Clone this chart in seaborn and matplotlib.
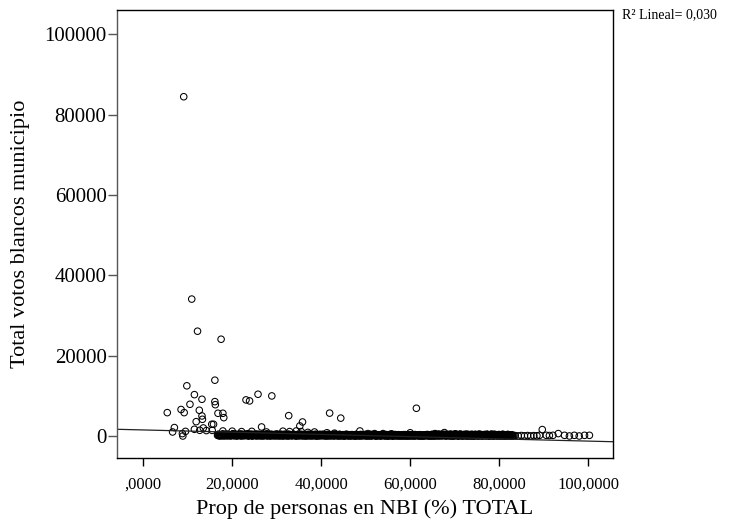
import matplotlib
matplotlib.use("Agg")
import matplotlib.pyplot as plt
import seaborn as sns
import pandas as pd

# ---------------- data ----------------
x_label = "Prop de personas en NBI (%) TOTAL"
y_label = "Total votos blancos municipio"
r2_text = "R\u00b2 Lineal= 0,030"

x_ticks = [0, 20, 40, 60, 80, 100]
x_tick_labels = [",0000", "20,0000", "40,0000", "60,0000", "80,0000", "100,0000"]
y_ticks = [0, 20000, 40000, 60000, 80000, 100000]
y_tick_labels = ["0", "20000", "40000", "60000", "80000", "100000"]

# fitted linear line
fit_intercept = 1508
fit_slope = -27.8

# scattered municipalities (outliers / above the dense band)
out_x = [9.1, 10.9, 12.2, 17.5, 16.1, 9.8, 11.5, 13.2, 10.5, 16.1,
         16.2, 23.1, 23.9, 25.8, 28.9, 5.4, 8.5, 9.2, 12.6, 13.2,
         13.3, 11.9, 16.8, 17.9, 18.1, 15.4, 15.8, 32.7, 35.8, 35.2,
         26.6, 41.9, 44.4, 61.4, 7.0, 6.6, 8.8, 8.9, 9.5, 11.5,
         12.7, 13.5, 14.2, 15.5, 17.9, 20.0, 22.1, 24.4, 27.7, 31.4,
         32.9, 34.4, 35.5, 37.0, 38.5, 41.3, 43.0, 48.7, 50.5, 52.0,
         53.9, 55.8, 60.0, 65.6, 67.7, 70.1]
out_y = [84500, 34100, 26100, 24100, 13900, 12500, 10300, 9150, 7900, 8560,
         7800, 8990, 8740, 10400, 9980, 5820, 6600, 5820, 6410, 4990,
         4160, 3570, 5660, 5660, 4570, 2920, 2920, 5070, 3490, 2500,
         2250, 5700, 4450, 6910, 2100, 1000, 600, 0, 1150, 1670,
         1420, 2000, 1350, 1400, 1250, 1200, 1100, 1150, 1000, 1200,
         1100, 1250, 1100, 900, 1000, 800, 700, 1250, 600, 600,
         600, 550, 800, 600, 850, 550]

# dense band of small municipalities (x 17..83, votes near 0) - group A
band_x = [16.7, 16.9, 17.3, 17.5, 17.9, 18.1, 18.4, 18.8, 19.0, 19.3,
          19.7, 19.9, 20.2, 20.6, 20.8, 21.1, 21.5, 21.7, 22.0, 22.4,
          22.6, 22.9, 23.3, 23.5, 23.8, 24.2, 24.4, 24.7, 25.1, 25.3,
          25.6, 26.0, 26.2, 26.5, 26.9, 27.1, 27.4, 27.8, 28.0, 28.3,
          28.7, 28.9, 29.2, 29.6, 29.8, 30.1, 30.5, 30.7, 31.0, 31.4,
          31.6, 31.9, 32.3, 32.5, 32.8, 33.2, 33.4, 33.7, 34.1, 34.3,
          34.6, 35.0, 35.2, 35.5, 35.9, 36.1, 36.4, 36.8, 37.0, 37.3,
          37.7, 37.9, 38.2, 38.6, 38.8, 39.1, 39.5, 39.7, 40.0, 40.4,
          40.6, 40.9, 41.3, 41.5, 41.8, 42.2, 42.4, 42.7, 43.1, 43.3,
          43.6, 44.0, 44.2, 44.5, 44.9, 45.1, 45.4, 45.8, 46.0, 46.3,
          46.7, 46.9, 47.2, 47.6, 47.8, 48.1, 48.5, 48.7, 49.0, 49.4,
          49.6, 49.9, 50.3, 50.5, 50.8, 51.2, 51.4, 51.7, 52.1, 52.3,
          52.6, 53.0, 53.2, 53.5, 53.9, 54.1, 54.4, 54.8, 55.0, 55.3,
          55.7, 55.9, 56.2, 56.6, 56.8, 57.1, 57.5, 57.7, 58.0, 58.4,
          58.6, 58.9, 59.3, 59.5, 59.8, 60.2, 60.4, 60.7, 61.1, 61.3,
          61.6, 62.0, 62.2, 62.5, 62.9, 63.1, 63.4, 63.8, 64.0, 64.3,
          64.7, 64.9, 65.2, 65.6, 65.8, 66.1, 66.5, 66.7, 67.0, 67.4,
          67.6, 67.9, 68.3, 68.5, 68.8, 69.2, 69.4, 69.7, 70.1, 70.3,
          70.6, 71.0, 71.2, 71.5, 71.9, 72.1, 72.4, 72.8, 73.0, 73.3,
          73.7, 73.9, 74.2, 74.6, 74.8, 75.1, 75.5, 75.7, 76.0, 76.4,
          76.6, 76.9, 77.3, 77.5, 77.8, 78.2, 78.4, 78.7, 79.1, 79.3,
          79.6, 80.0, 80.2, 80.5, 80.9, 81.1, 81.4, 81.8, 82.0, 82.3,
          82.7, 82.9]
band_y = [150, 420, 60, 300, 520, 200, 380, 90, 460, 250,
          30, 340, 560, 180, 420, 80, 290, 500, 140, 360,
          40, 450, 230, 580, 110, 320, 20, 400, 260, 510,
          170, 60, 380, 240, 470, 90, 330, 550, 150, 280,
          20, 420, 200, 350, 70, 500, 250, 130, 440, 310,
          50, 380, 220, 480, 120, 300, 30, 410, 260, 160,
          350, 80, 460, 210, 20, 390, 140, 300, 60, 430,
          190, 330, 40, 260, 450, 110, 360, 20, 240, 400,
          130, 310, 60, 420, 200, 30, 350, 170, 460, 90,
          280, 20, 390, 150, 330, 60, 240, 420, 110, 300,
          40, 360, 190, 20, 410, 140, 270, 60, 340, 200,
          90, 380, 30, 250, 150, 400, 60, 310, 180, 20,
          330, 120, 260, 40, 380, 170, 60, 290, 20, 350,
          140, 240, 30, 370, 100, 200, 320, 50, 260, 150,
          20, 340, 120, 230, 60, 300, 20, 180, 360, 90,
          250, 40, 330, 150, 20, 280, 110, 380, 60, 200,
          30, 410, 160, 20, 340, 100, 450, 40, 290, 180,
          370, 20, 260, 130, 420, 40, 190, 20, 340, 110,
          300, 30, 460, 220, 60, 380, 20, 140, 430, 80,
          20, 310, 110, 400, 40, 270, 450, 20, 220, 330,
          160, 20, 390, 280, 30, 430, 220, 20, 350, 250,
          40, 360, 20, 210, 410, 30, 250, 20, 380, 120,
          30, 290]

# dense band - group B
band2_x = [16.8, 17.1, 17.4, 17.7, 18.0, 18.2, 18.6, 18.9, 19.1, 19.5,
           19.8, 20.0, 20.4, 20.7, 20.9, 21.3, 21.6, 21.8, 22.2, 22.5,
           22.7, 23.1, 23.4, 23.6, 24.0, 24.3, 24.5, 24.9, 25.2, 25.4,
           25.8, 26.1, 26.3, 26.7, 27.0, 27.2, 27.6, 27.9, 28.1, 28.5,
           28.8, 29.0, 29.4, 29.7, 29.9, 30.3, 30.6, 30.8, 31.2, 31.5,
           31.7, 32.1, 32.4, 32.6, 33.0, 33.3, 33.5, 33.9, 34.2, 34.4,
           34.8, 35.1, 35.3, 35.7, 36.0, 36.2, 36.6, 36.9, 37.1, 37.5,
           37.8, 38.0, 38.4, 38.7, 38.9, 39.3, 39.6, 39.8, 40.2, 40.5,
           40.7, 41.1, 41.4, 41.6, 42.0, 42.3, 42.5, 42.9, 43.2, 43.4,
           43.8, 44.1, 44.3, 44.7, 45.0, 45.2, 45.6, 45.9, 46.1, 46.5,
           46.8, 47.0, 47.4, 47.7, 47.9, 48.3, 48.6, 48.8, 49.2, 49.5,
           49.7, 50.1, 50.4, 50.6, 51.0, 51.3, 51.5, 51.9, 52.2, 52.4,
           52.8, 53.1, 53.3, 53.7, 54.0, 54.2, 54.6, 54.9, 55.1, 55.5,
           55.8, 56.0, 56.4, 56.7, 56.9, 57.3, 57.6, 57.8, 58.2, 58.5,
           58.7, 59.1, 59.4, 59.6, 60.0, 60.3, 60.5, 60.9, 61.2, 61.4,
           61.8, 62.1, 62.3, 62.7, 63.0, 63.2, 63.6, 63.9, 64.1, 64.5,
           64.8, 65.0, 65.4, 65.7, 65.9, 66.3, 66.6, 66.8, 67.2, 67.5,
           67.7, 68.1, 68.4, 68.6, 69.0, 69.3, 69.5, 69.9, 70.2, 70.4,
           70.8, 71.1, 71.3, 71.7, 72.0, 72.2, 72.6, 72.9, 73.1, 73.5,
           73.8, 74.0, 74.4, 74.7, 74.9, 75.3, 75.6, 75.8, 76.2, 76.5,
           76.7, 77.1, 77.4, 77.6, 78.0, 78.3, 78.5, 78.9, 79.2, 79.4,
           79.8, 80.1, 80.3, 80.7, 81.0, 81.2, 81.6, 81.9, 82.1, 82.5,
           82.8, 83.0]
band2_y = [380, 90, 250, 10, 330, 120, 440, 200, 30, 300,
           160, 410, 70, 260, 20, 350, 190, 60, 430, 230,
           290, 110, 370, 0, 200, 440, 80, 280, 150, 10,
           340, 220, 90, 410, 30, 180, 270, 40, 390, 120,
           250, 160, 20, 300, 420, 110, 10, 370, 210, 60,
           430, 150, 290, 10, 340, 80, 200, 370, 110, 20,
           260, 190, 40, 330, 230, 110, 20, 400, 160, 280,
           60, 410, 230, 120, 10, 300, 180, 420, 70, 140,
           380, 20, 250, 110, 330, 160, 240, 50, 300, 210,
           120, 380, 40, 270, 170, 10, 350, 90, 260, 30,
           220, 80, 300, 130, 10, 260, 40, 380, 100, 300,
           250, 120, 210, 10, 340, 60, 230, 140, 40, 290,
           80, 320, 20, 200, 120, 280, 360, 10, 160, 60,
           300, 10, 190, 90, 280, 30, 130, 210, 20, 340,
           180, 60, 280, 10, 200, 110, 320, 30, 150, 250,
           60, 190, 20, 270, 130, 30, 210, 100, 330, 20,
           330, 100, 20, 400, 180, 440, 150, 250, 10, 320,
           220, 450, 40, 280, 90, 400, 20, 320, 160, 390,
           20, 380, 260, 10, 330, 140, 430, 80, 20, 270,
           440, 60, 20, 390, 220, 30, 300, 410, 20, 150,
           330, 40, 400, 20, 170, 440, 60, 20, 360, 140,
           300, 20, 180, 400, 30, 220, 20, 370, 160, 30,
           250, 20]

# dense band - group C
band3_x = [17.0, 17.2, 17.6, 17.8, 18.3, 18.5, 18.7, 19.2, 19.4, 19.6,
           20.1, 20.3, 20.5, 21.0, 21.2, 21.4, 21.9, 22.1, 22.3, 22.8,
           23.0, 23.2, 23.7, 23.9, 24.1, 24.6, 24.8, 25.0, 25.5, 25.7,
           25.9, 26.4, 26.6, 26.8, 27.3, 27.5, 27.7, 28.2, 28.4, 28.6,
           29.1, 29.3, 29.5, 30.0, 30.2, 30.4, 30.9, 31.1, 31.3, 31.8,
           32.0, 32.2, 32.7, 32.9, 33.1, 33.6, 33.8, 34.0, 34.5, 34.7,
           34.9, 35.4, 35.6, 35.8, 36.3, 36.5, 36.7, 37.2, 37.4, 37.6,
           38.1, 38.3, 38.5, 39.0, 39.2, 39.4, 39.9, 40.1, 40.3, 40.8,
           41.0, 41.2, 41.7, 41.9, 42.1, 42.6, 42.8, 43.0, 43.5, 43.7,
           43.9, 44.4, 44.6, 44.8, 45.3, 45.5, 45.7, 46.2, 46.4, 46.6,
           47.1, 47.3, 47.5, 48.0, 48.2, 48.4, 48.9, 49.1, 49.3, 49.8,
           50.0, 50.2, 50.7, 50.9, 51.1, 51.6, 51.8, 52.0, 52.5, 52.7,
           52.9, 53.4, 53.6, 53.8, 54.3, 54.5, 54.7, 55.2, 55.4, 55.6,
           56.1, 56.3, 56.5, 57.0, 57.2, 57.4, 57.9, 58.1, 58.3, 58.8,
           59.0, 59.2, 59.7, 59.9, 60.1, 60.6, 60.8, 61.0, 61.5, 61.7,
           61.9, 62.4, 62.6, 62.8, 63.3, 63.5, 63.7, 64.2, 64.4, 64.6,
           65.1, 65.3, 65.5, 66.0, 66.2, 66.4, 66.9, 67.1, 67.3, 67.8,
           68.0, 68.2, 68.7, 68.9, 69.1, 69.6, 69.8, 70.0, 70.5, 70.7,
           70.9, 71.4, 71.6, 71.8, 72.3, 72.5, 72.7, 73.2, 73.4, 73.6,
           74.1, 74.3, 74.5, 75.0, 75.2, 75.4, 75.9, 76.1, 76.3, 76.8,
           77.0, 77.2, 77.7, 77.9, 78.1, 78.6, 78.8, 79.0, 79.5, 79.7,
           79.9, 80.4, 80.6, 80.8, 81.3, 81.5, 81.7, 82.2, 82.4, 82.6,
           83.1, 83.3]
band3_y = [60, 270, 190, 430, 20, 310, 140, 350, 220, 80,
           470, 120, 300, 380, 50, 230, 420, 10, 320, 170,
           200, 350, 60, 280, 400, 30, 230, 160, 350, 90,
           440, 130, 20, 180, 300, 380, 60, 220, 30, 410,
           130, 300, 380, 60, 250, 160, 340, 20, 120, 230,
           300, 20, 110, 390, 240, 160, 420, 70, 20, 340,
           120, 260, 380, 100, 300, 40, 240, 90, 330, 20,
           280, 120, 350, 20, 230, 60, 280, 150, 380, 30,
           220, 160, 30, 340, 110, 270, 20, 390, 140, 40,
           330, 200, 60, 110, 20, 390, 150, 20, 320, 190,
           120, 230, 20, 330, 180, 60, 190, 20, 280, 150,
           30, 310, 100, 200, 20, 280, 130, 350, 10, 200,
           240, 60, 310, 150, 20, 210, 110, 40, 260, 180,
           20, 240, 130, 40, 330, 90, 20, 280, 150, 60,
           270, 20, 140, 330, 40, 230, 120, 20, 300, 80,
           180, 20, 120, 40, 250, 90, 310, 20, 180, 130,
           20, 270, 440, 60, 310, 20, 380, 130, 460, 200,
           30, 320, 200, 20, 450, 60, 320, 30, 400, 20,
           100, 440, 20, 270, 170, 420, 20, 310, 260, 30,
           350, 20, 180, 280, 20, 420, 140, 320, 20, 380,
           230, 400, 60, 300, 20, 130, 440, 180, 20, 270,
           340, 140, 20, 330, 60, 20, 300, 140, 20, 260,
           20, 140]

# right tail (x > 83)
tail_x = [83.6, 84.3, 85.0, 85.7, 86.4, 87.1, 87.8, 88.5, 89.1, 89.7,
          90.6, 91.3, 92.1, 93.3, 94.7, 95.8, 96.9, 98.0, 99.2, 100.3]
tail_y = [100, 30, 120, 40, 110, 20, 90, 60, 170, 1600,
          170, 120, 170, 600, 170, 0, 170, 0, 170, 170]

# ---------------- build table ----------------
xs, ys = [], []
for gx, gy in [(out_x, out_y), (band_x, band_y), (band2_x, band2_y),
               (band3_x, band3_y), (tail_x, tail_y)]:
    for a, b in zip(gx, gy):
        xs.append(a)
        ys.append(b)
df = pd.DataFrame({"nbi": xs, "votos": ys})

# ---------------- plot ----------------
sns.set_theme(style="white")
plt.rcParams['font.family'] = ['Liberation Serif', 'DejaVu Serif']

fig = plt.figure(figsize=(7.34, 5.24), dpi=100)
fig.patch.set_facecolor("white")
ax = fig.add_axes([117 / 734, 1 - 458 / 524, (613 - 117) / 734, (458 - 10) / 524])

sns.scatterplot(data=df, x="nbi", y="votos", ax=ax, marker="o", s=22,
                linewidth=0.75, legend=False)
coll = ax.collections[0]
coll.set_facecolor("none")
coll.set_edgecolor("black")
coll.set_linewidth(0.75)

ax.axline((0, fit_intercept), slope=fit_slope, color="#222222", lw=0.9, zorder=1)

ax.set_xlim(-5.9, 105.6)
ax.set_ylim(-5480, 106100)

ax.set_xticks(x_ticks)
ax.set_xticklabels(x_tick_labels)
ax.set_yticks(y_ticks)
ax.set_yticklabels(y_tick_labels)

ax.tick_params(axis="x", direction="out", length=6, width=1, color="black",
               bottom=True, labelsize=12, pad=7.5, labelcolor="black")
ax.tick_params(axis="y", direction="out", length=6.5, width=1, color="#555555",
               left=True, labelsize=15, pad=1, labelcolor="black")

for side, sp in ax.spines.items():
    sp.set_visible(True)
    sp.set_color("black")
    sp.set_linewidth(1)
ax.spines["left"].set_color("#555555")

ax.set_xlabel(x_label, fontsize=16, color="black", labelpad=5)
ax.set_ylabel(y_label, fontsize=16, color="black", labelpad=10)

fig.text(622 / 734, 1 - 18 / 524, r2_text, fontsize=10, ha="left",
         va="baseline", color="black")

fig.savefig("out.png", dpi=100, facecolor="white")
